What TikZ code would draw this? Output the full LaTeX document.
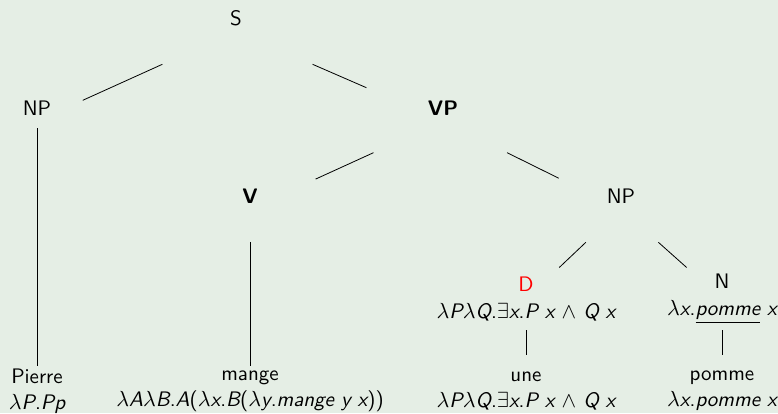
\documentclass[tikz,border=0pt]{standalone}
\usepackage{amsmath, amssymb}
\usepackage{tikz}
\usetikzlibrary{calc}

\definecolor{fond}{RGB}{229,238,229}
\newcommand{\lmb}{$\lambda$}
\newcommand{\tv}[1]{{\slshape #1}}

\begin{document}
\begin{tikzpicture}[
    x=0.5pt, y=-0.5pt,
    every node/.style={font=\sffamily\fontsize{10.5}{13}\selectfont, inner sep=0pt},
    cat/.style={text height=7.5pt, text depth=13.1pt},
    word/.style={align=center}
]
    \fill[fond] (0,0) rectangle (778,413);

    % categories
    \node[cat] (S) at (236,31) {S};
    \node[cat] (NPa) at (37,121) {NP};
    \node[cat] (VP) at (443,121) {\textbf{VP}};
    \node[cat] (V) at (250,209) {\textbf{V}};
    \node[cat] (NPb) at (621,209) {NP};
    \node[word] (D) at (526,299) {\textcolor{red}{D}\\[0.5pt] \lmb\tv{P}\lmb\tv{Q}.$\exists$\tv{x}.\tv{P x} $\wedge$ \tv{Q x}};
    \node[word] (N) at (722,299) {N\\[0.5pt] \lmb\tv{x}.\underline{\tv{pomme}} \tv{x}};

    % mots
    \node[word] (Pierre) at (37,391) {Pierre\\ \lmb\tv{P}.\tv{Pp}};
    \node[word] (mange) at (250,391) {mange\\ \lmb\tv{A}\lmb\tv{B}.\tv{A}(\lmb\tv{x}.\tv{B}(\lmb\tv{y}.\tv{mange y x}))};
    \node[word] (une) at (526,391) {une\\ \lmb\tv{P}\lmb\tv{Q}.$\exists$\tv{x}.\tv{P x} $\wedge$ \tv{Q x}};
    \node[word] (pomme) at (722,391) {pomme\\ \lmb\tv{x}.\tv{pomme x}};

    % branches
    \draw ($(S)!.37!(NPa)$) -- ($(S)!.77!(NPa)$);
    \draw ($(S)!.37!(VP)$) -- ($(S)!.63!(VP)$);
    \draw ($(NPa)!.026!(Pierre)$) -- ($(NPa)!.906!(Pierre)$);
    \draw ($(VP)!.36!(V)$) -- ($(VP)!.66!(V)$);
    \draw ($(VP)!.36!(NPb)$) -- ($(VP)!.65!(NPb)$);
    \draw ($(V)!.18!(mange)$) -- ($(V)!.86!(mange)$);
    \draw ($(NPb)!.37!(D)$) -- ($(NPb)!.65!(D)$);
    \draw ($(NPb)!.37!(N)$) -- ($(NPb)!.65!(N)$);
    \draw ($(D)!.34!(une)$) -- ($(D)!.61!(une)$);
    \draw ($(N)!.34!(pomme)$) -- ($(N)!.61!(pomme)$);
\end{tikzpicture}
\end{document}
